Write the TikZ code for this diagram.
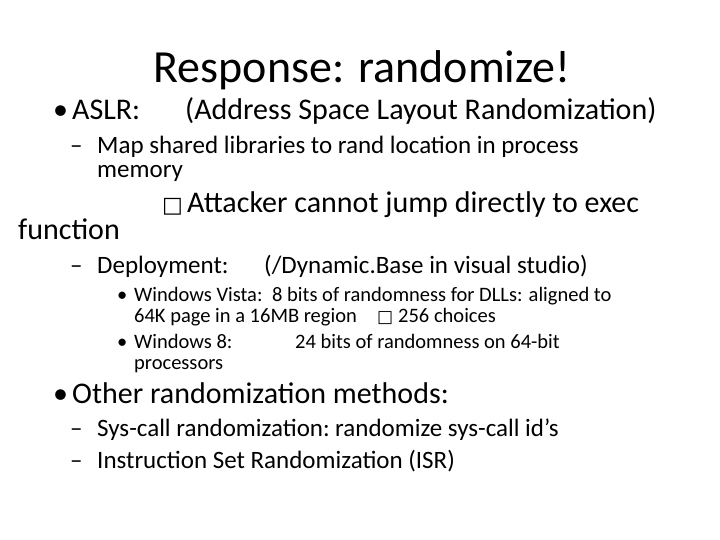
\documentclass[tikz,border=0pt]{standalone}
\usepackage{fontspec}
\setmainfont{Carlito}
\newfontfamily\symf{DejaVu Sans}
\begin{document}
\begin{tikzpicture}[x=1pt,y=-1pt,
  t/.style={anchor=mid west,inner sep=0pt,text=black},
  L1/.style={t,font=\fontsize{30}{34}\selectfont},
  L2/.style={t,font=\fontsize{25}{29}\selectfont},
  L3/.style={t,font=\fontsize{20.5}{24}\selectfont}]
\useasboundingbox (0,0) rectangle (720,540);
\node[anchor=center,inner sep=0pt,font=\fontsize{46}{52}\selectfont] (title) at (362,70) {Response: randomize!};
\node[L1] (b1) at (53,117) {•};
\node[L1] (a1) at (72,117) {ASLR:};
\node[L1] (a2) at (185,117) {(Address Space Layout Randomization)};
\node[L2] (d1) at (70,151) {–};
\node[L2] (m1) at (97,151) {Map shared libraries to rand location in process};
\node[L2] (m2) at (97,175) {memory};
\node[L1] (bx1) at (162,210) {\symf\fontsize{22}{26}\selectfont □};
\node[L1] (at1) at (187,210) {Attacker cannot jump directly to exec};
\node[L1] (at2) at (18,237) {function};
\node[L2] (d2) at (70,271) {–};
\node[L2] (dp1) at (97,271) {Deployment:};
\node[L2] (dp2) at (264,271) {(/Dynamic.Base in visual studio)};
\node[L3] (b2) at (117,299) {•};
\node[L3] (w1) at (134,299) {Windows Vista:};
\node[L3] (w2) at (272,299) {8 bits of randomness for DLLs: aligned to};
\node[L3] (w3) at (134,320) {64K page in a 16MB region};
\node[L3] (bx2) at (377,320) {\symf\fontsize{17}{20}\selectfont □};
\node[L3] (w4) at (398,320) {256 choices};
\node[L3] (b3) at (117,346) {•};
\node[L3] (w5) at (134,346) {Windows 8:};
\node[L3] (w6) at (295,346) {24 bits of randomness on 64-bit};
\node[L3] (w7) at (134,367) {processors};
\node[L1] (b4) at (53,401) {•};
\node[L1] (o1) at (72,401) {Other randomization methods:};
\node[L2] (d3) at (70,434) {–};
\node[L2] (s1) at (97,434) {Sys-call randomization:};
\node[L2] (s2) at (335,434) {randomize sys-call id’s};
\node[L2] (d4) at (70,466) {–};
\node[L2] (s3) at (97,466) {Instruction Set Randomization (ISR)};
\end{tikzpicture}
\end{document}
